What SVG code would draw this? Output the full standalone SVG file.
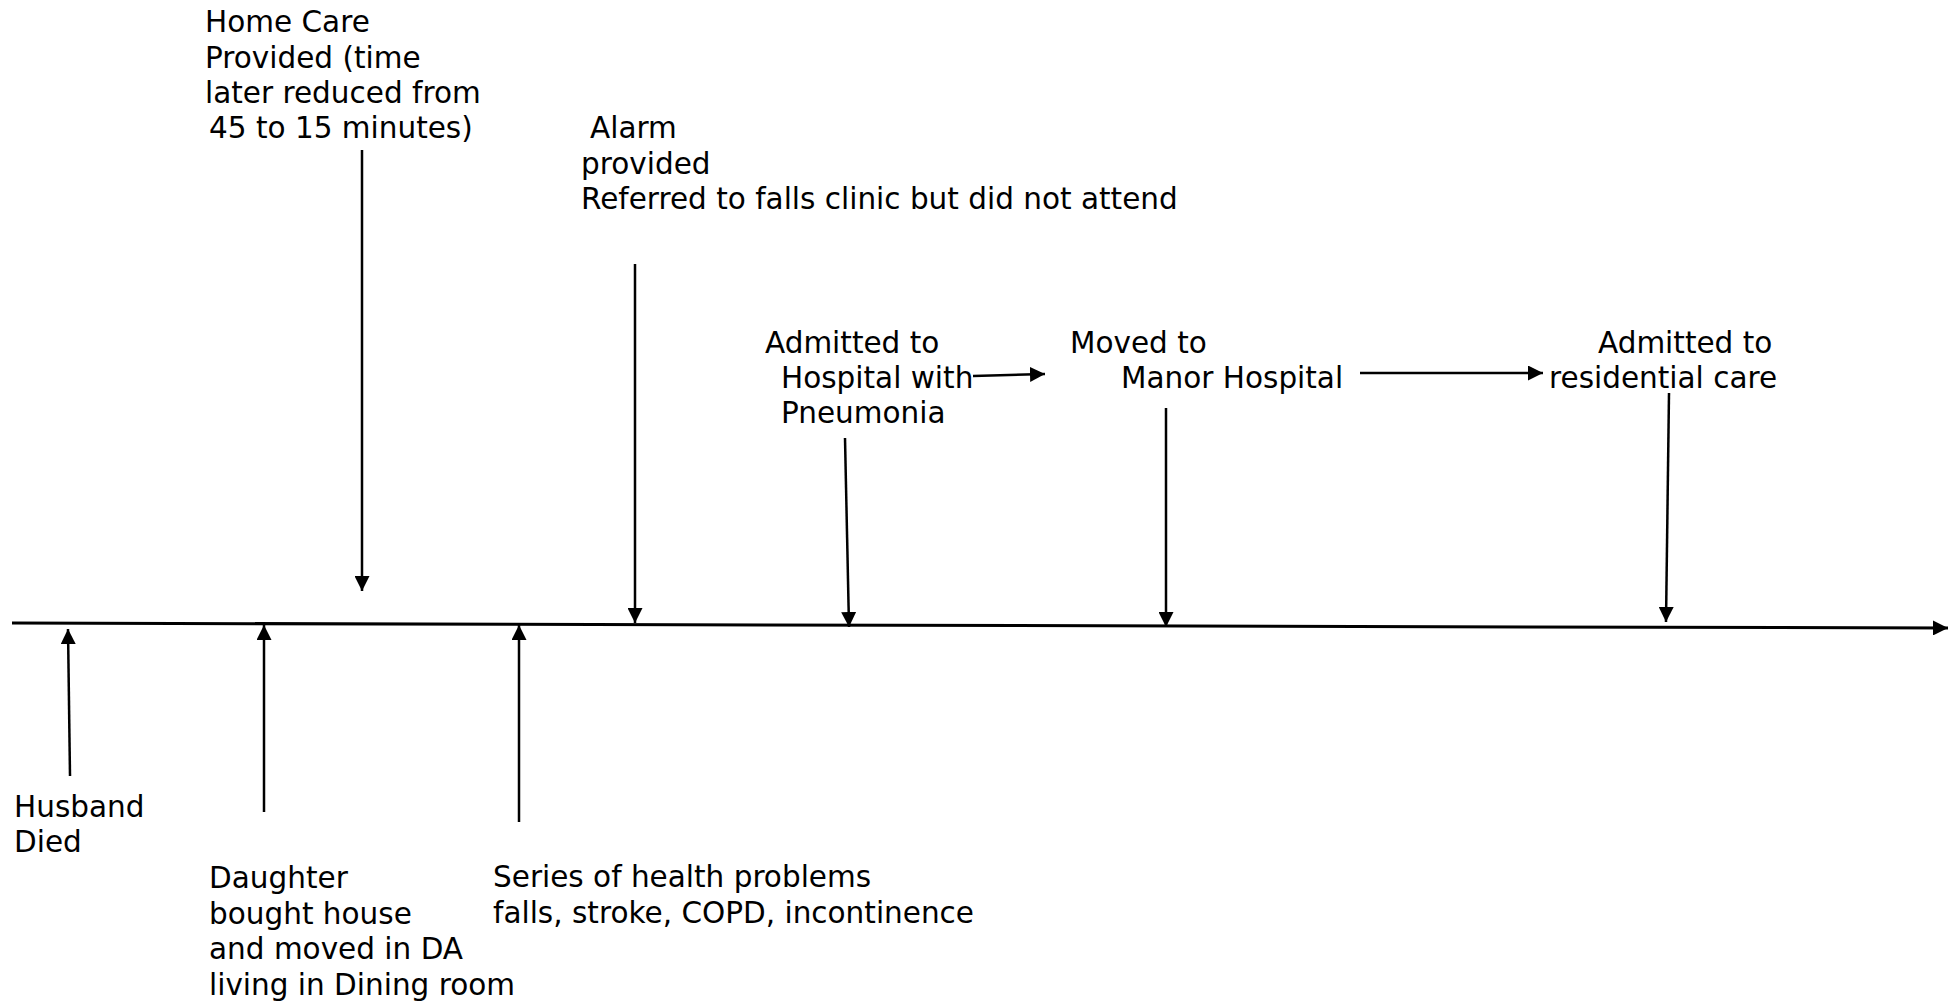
<svg xmlns="http://www.w3.org/2000/svg" width="1951" height="1002" viewBox="0 0 1951 1002">
<style>
  text { font-family: "DejaVu Sans", Verdana, sans-serif; font-size: 29.5px; fill: #000; }
  .c { stroke: #000; stroke-width: 2.5; fill: none; }
  .t { stroke: #000; stroke-width: 3; fill: none; }
</style>
<defs>
  <marker id="ah" markerUnits="userSpaceOnUse" markerWidth="15" markerHeight="15" refX="15" refY="7.5" orient="auto" viewBox="0 0 15 15">
    <path d="M0,0 L15,7.5 L0,15 z" fill="#000"/>
  </marker>
</defs>
<rect width="1951" height="1002" fill="#fff"/>
<g id="connectors">
  <line class="t" x1="12" y1="623" x2="1948" y2="628" marker-end="url(#ah)"/>
  <line class="c" x1="362" y1="150" x2="362" y2="591" marker-end="url(#ah)"/>
  <line class="c" x1="635" y1="264" x2="635" y2="623" marker-end="url(#ah)"/>
  <line class="c" x1="845" y1="438" x2="849" y2="627" marker-end="url(#ah)"/>
  <line class="c" x1="1166" y1="408" x2="1166" y2="627" marker-end="url(#ah)"/>
  <line class="c" x1="1669" y1="393" x2="1666" y2="622" marker-end="url(#ah)"/>
  <line class="c" x1="973" y1="376" x2="1045" y2="374" marker-end="url(#ah)"/>
  <line class="c" x1="1360" y1="373" x2="1543" y2="373" marker-end="url(#ah)"/>
  <line class="c" x1="70" y1="776" x2="68" y2="629" marker-end="url(#ah)"/>
  <line class="c" x1="264" y1="812" x2="264" y2="625" marker-end="url(#ah)"/>
  <line class="c" x1="519" y1="822" x2="519" y2="625" marker-end="url(#ah)"/>
</g>
<g id="home-care">
  <text x="205" y="32">Home Care</text>
  <text x="205" y="68">Provided (time</text>
  <text x="205" y="103">later reduced from</text>
  <text x="209" y="138">45 to 15 minutes)</text>
</g>
<g id="alarm">
  <text x="590" y="138">Alarm</text>
  <text x="581" y="174">provided</text>
  <text x="581" y="209">Referred to falls clinic but did not attend</text>
</g>
<g id="admitted-hospital">
  <text x="765" y="353">Admitted to</text>
  <text x="781" y="388">Hospital with</text>
  <text x="781" y="423">Pneumonia</text>
</g>
<g id="manor">
  <text x="1070" y="353">Moved to</text>
  <text x="1121" y="388">Manor Hospital</text>
</g>
<g id="residential">
  <text x="1598" y="353">Admitted to</text>
  <text x="1549" y="388">residential care</text>
</g>
<g id="husband">
  <text x="14" y="817">Husband</text>
  <text x="14" y="852">Died</text>
</g>
<g id="daughter">
  <text x="209" y="888">Daughter</text>
  <text x="209" y="924">bought house</text>
  <text x="209" y="959">and moved in DA</text>
  <text x="209" y="995">living in Dining room</text>
</g>
<g id="series">
  <text x="493" y="887">Series of health problems</text>
  <text x="493" y="923">falls, stroke, COPD, incontinence</text>
</g>
</svg>
